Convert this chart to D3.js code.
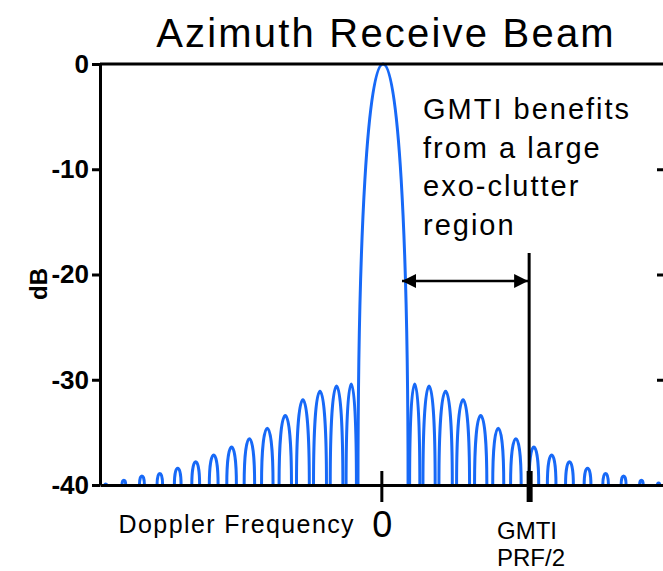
<!DOCTYPE html>
<html>
<head>
<meta charset="utf-8">
<script src="https://cdn.jsdelivr.net/npm/d3@7"></script>
<style>
  body { margin: 0; background: #fff; }
  svg { display: block; font-family: "Liberation Sans", Arial, sans-serif; }
</style>
</head>
<body>
<svg id="chart" width="663" height="571"></svg>
<script>
// nulls of the beam pattern (Doppler bins), lobes sit between consecutive nulls
const nulls = [-15.98, -14.97, -13.95, -12.94, -11.94, -10.93, -9.92, -8.91, -7.91, -6.91,
  -5.90, -4.89, -3.92, -2.97, -2.06, -1.32,
  1.51, 2.24, 3.12, 4.10, 5.08, 6.08, 7.05, 8.06, 9.07, 10.06, 11.07, 12.09, 13.10, 14.11, 15.10, 16.04];
// peak level of each lobe in dB (left sidelobes, main lobe, right sidelobes)
const peaks = [-39.9, -39.55, -39.15, -38.9, -38.4, -37.8, -37.15, -36.4, -35.6, -34.6,
  -33.4, -31.9, -31.1, -30.6, -30.4,
  0,
  -30.4, -30.6, -31.1, -31.9, -33.4, -34.6, -35.6, -36.4, -37.15, -37.8, -38.4, -38.9, -39.15, -39.55, -39.8];
const yTicks = [0, -10, -20, -30, -40];
const floorDb = -40;
const prfHalf = 8.3;
const noteLines = ["GMTI benefits", "from a large", "exo-clutter", "region"];

const svg = d3.select("#chart");
const plotLeft = 100, plotRight = 665, plotTop = 64, plotBottom = 485;

const x = d3.scaleLinear().domain([-15.8, 15.93]).range([plotLeft, plotRight]);
const y = d3.scaleLinear().domain([floorDb, 0]).range([plotBottom, plotTop]);

// title
svg.append("text")
  .attr("x", 386).attr("y", 47)
  .attr("text-anchor", "middle")
  .attr("font-size", 40).attr("letter-spacing", 2.2)
  .text("Azimuth Receive Beam");

// beam lobes: each one an arch between its nulls, cut where it meets the -40 dB floor
const plot = svg.append("g");
for (let i = 0; i < peaks.length; i++) {
  const a = x(nulls[i]), b = x(nulls[i + 1]);
  const mid = (a + b) / 2;
  const cut = Math.asin(Math.pow(10, (floorDb - peaks[i]) / 20)) / Math.PI;
  const half = (b - a) / 2 * (1 - 2 * cut);
  const y0 = y(floorDb), yp = y(peaks[i]);
  const y1 = y0 - 0.6 * (y0 - yp);
  const p = d3.path();
  p.moveTo(mid - half, y0);
  p.bezierCurveTo(mid - half, y1, mid - 0.6 * half, yp, mid, yp);
  p.bezierCurveTo(mid + 0.6 * half, yp, mid + half, y1, mid + half, y0);
  plot.append("path")
    .attr("d", p.toString())
    .attr("fill", "none")
    .attr("stroke", "#1769f7")
    .attr("stroke-width", 3);
}

// top frame line
svg.append("line")
  .attr("x1", plotLeft).attr("x2", plotRight)
  .attr("y1", y(0)).attr("y2", y(0))
  .attr("stroke", "#000").attr("stroke-width", 3);

// left axis
const yAxis = svg.append("g")
  .attr("transform", "translate(" + plotLeft + ",0)")
  .call(d3.axisLeft(y).tickValues(yTicks).tickSize(8).tickSizeOuter(0).tickPadding(3)
    .tickFormat((d) => String(d)));
yAxis.select(".domain").attr("stroke-width", 3);
yAxis.selectAll(".tick line").attr("stroke-width", 3);
yAxis.selectAll(".tick text")
  .attr("font-size", 26).attr("font-weight", "bold")
  .attr("font-family", "Liberation Sans, Arial, sans-serif")
  .attr("fill", "#000");

// right inner ticks
const yRight = svg.append("g")
  .attr("transform", "translate(" + plotRight + ",0)")
  .call(d3.axisLeft(y).tickValues([-10, -20, -30]).tickSize(8).tickSizeOuter(0).tickFormat(""));
yRight.select(".domain").remove();
yRight.selectAll(".tick line").attr("stroke-width", 3);

// bottom axis
const xAxis = svg.append("g")
  .attr("transform", "translate(0," + plotBottom + ")")
  .call(d3.axisBottom(x).tickValues([0, prfHalf]).tickSize(17).tickSizeOuter(0).tickFormat(""));
xAxis.select(".domain").attr("stroke-width", 3);
xAxis.selectAll(".tick line")
  .attr("y1", -14)
  .attr("stroke-width", (d) => d === 0 ? 3 : 6);

// y axis title
svg.append("text")
  .attr("transform", "translate(47,284) rotate(-90)")
  .attr("text-anchor", "middle")
  .attr("font-size", 24).attr("font-weight", "bold")
  .text("dB");

// x labels
svg.append("text")
  .attr("x", 355).attr("y", 533)
  .attr("text-anchor", "end")
  .attr("font-size", 25).attr("letter-spacing", 1.4)
  .text("Doppler Frequency");
svg.append("text")
  .attr("x", x(0) + 1).attr("y", 537)
  .attr("text-anchor", "middle")
  .attr("font-size", 36)
  .text("0");
svg.append("text")
  .attr("x", 497).attr("y", 539)
  .attr("font-size", 24)
  .text("GMTI");
svg.append("text")
  .attr("x", 497).attr("y", 566)
  .attr("font-size", 24)
  .text("PRF/2");

// PRF/2 marker line and the exo-clutter arrow
svg.append("line")
  .attr("x1", x(prfHalf)).attr("x2", x(prfHalf))
  .attr("y1", 253).attr("y2", plotBottom)
  .attr("stroke", "#000").attr("stroke-width", 3);

svg.append("defs").append("marker")
  .attr("id", "head")
  .attr("viewBox", "0 0 10 10")
  .attr("refX", 10).attr("refY", 5)
  .attr("markerWidth", 6).attr("markerHeight", 5.6)
  .attr("markerUnits", "strokeWidth")
  .attr("orient", "auto-start-reverse")
  .append("path")
  .attr("d", "M0,0L10,5L0,10Z")
  .attr("fill", "#000");

svg.append("line")
  .attr("x1", 402).attr("x2", x(prfHalf) - 1)
  .attr("y1", 281).attr("y2", 281)
  .attr("stroke", "#000").attr("stroke-width", 2.5)
  .attr("marker-start", "url(#head)")
  .attr("marker-end", "url(#head)");

// note text
svg.append("g").selectAll("text")
  .data(noteLines)
  .join("text")
  .attr("x", 423)
  .attr("y", (d, i) => 119 + i * 38.6)
  .attr("font-size", 29).attr("letter-spacing", 2)
  .text((d) => d);
</script>
</body>
</html>
